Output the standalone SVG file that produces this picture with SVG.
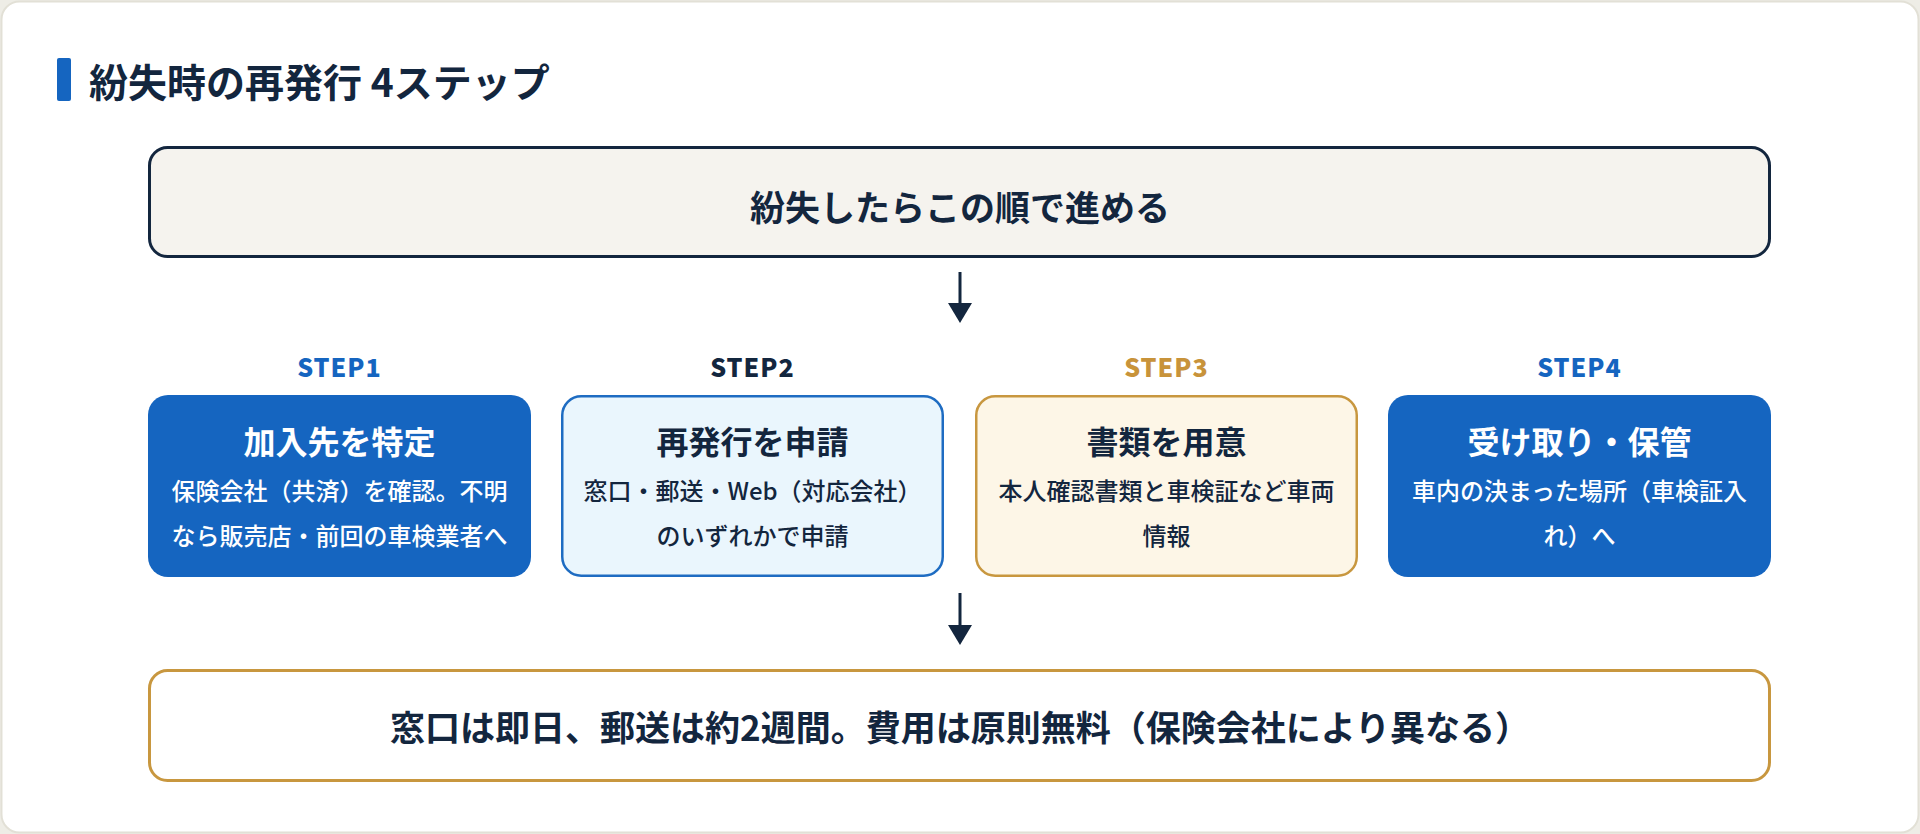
<svg xmlns="http://www.w3.org/2000/svg" width="1920" height="834" viewBox="0 0 1920 834">
<style>
text{font-family:"Noto Sans CJK JP","Noto Sans",sans-serif;text-anchor:middle}
.navy{fill:#13263e}
.white{fill:#ffffff}
.ttl{font-size:32px;font-weight:700}
.desc{font-size:24px;font-weight:500}
.step{font-size:25px;font-weight:800;letter-spacing:1px}
.big{font-size:35px;font-weight:700}
</style>
<rect x="0" y="0" width="1920" height="834" fill="#eeede6"/>
<rect x="1.5" y="1.5" width="1917" height="831" rx="18" fill="#ffffff" stroke="#e2e0d6" stroke-width="2"/>
<g id="title">
<rect x="57" y="58" width="14" height="43" rx="2" fill="#1565c0"/>
<text x="89" y="97" style="text-anchor:start;font-size:39px;font-weight:700" class="navy">紛失時の再発行 4ステップ</text>
</g>
<g id="connectors">
<line x1="960" y1="272" x2="960" y2="304" stroke="#13263e" stroke-width="3"/>
<path d="M948,303 L972,303 L960,323 Z" fill="#13263e"/>
<line x1="960" y1="593" x2="960" y2="626" stroke="#13263e" stroke-width="3"/>
<path d="M948,625 L972,625 L960,645 Z" fill="#13263e"/>
</g>
<g id="start">
<rect x="149.5" y="147.5" width="1620" height="109" rx="18" fill="#f5f3ee" stroke="#13263e" stroke-width="3"/>
<text x="960" y="221" class="big navy">紛失したらこの順で進める</text>
</g>
<g id="step1">
<text x="339.5" y="377" class="step" fill="#1565c0">STEP1</text>
<rect x="148" y="395" width="383" height="182" rx="20" fill="#1565c0"/>
<text x="339.5" y="454" class="ttl white">加入先を特定</text>
<text x="339.5" y="500" class="desc white">保険会社（共済）を確認。不明</text>
<text x="339.5" y="545" class="desc white">なら販売店・前回の車検業者へ</text>
</g>
<g id="step2">
<text x="752.5" y="377" class="step navy">STEP2</text>
<rect x="562.25" y="396.25" width="380.5" height="179.5" rx="19" fill="#eaf6fd" stroke="#1e6cc2" stroke-width="2.5"/>
<text x="752.5" y="454" class="ttl navy">再発行を申請</text>
<text x="752.5" y="500" class="desc navy">窓口・郵送・Web（対応会社）</text>
<text x="752.5" y="545" class="desc navy">のいずれかで申請</text>
</g>
<g id="step3">
<text x="1166.5" y="377" class="step" fill="#c8933a">STEP3</text>
<rect x="976.25" y="396.25" width="380.5" height="179.5" rx="19" fill="#fdf6e7" stroke="#c8973f" stroke-width="2.5"/>
<text x="1166.5" y="454" class="ttl navy">書類を用意</text>
<text x="1166.5" y="500" class="desc navy">本人確認書類と車検証など車両</text>
<text x="1166.5" y="545" class="desc navy">情報</text>
</g>
<g id="step4">
<text x="1579.5" y="377" class="step" fill="#1565c0">STEP4</text>
<rect x="1388" y="395" width="383" height="182" rx="20" fill="#1565c0"/>
<text x="1579.5" y="454" class="ttl white">受け取り・保管</text>
<text x="1579.5" y="500" class="desc white">車内の決まった場所（車検証入</text>
<text x="1579.5" y="545" class="desc white">れ）へ</text>
</g>
<g id="result">
<rect x="149.5" y="670.5" width="1620" height="110" rx="18" fill="#ffffff" stroke="#c8973f" stroke-width="3"/>
<text x="960" y="741" class="big navy">窓口は即日、郵送は約2週間。費用は原則無料（保険会社により異なる）</text>
</g>
</svg>
